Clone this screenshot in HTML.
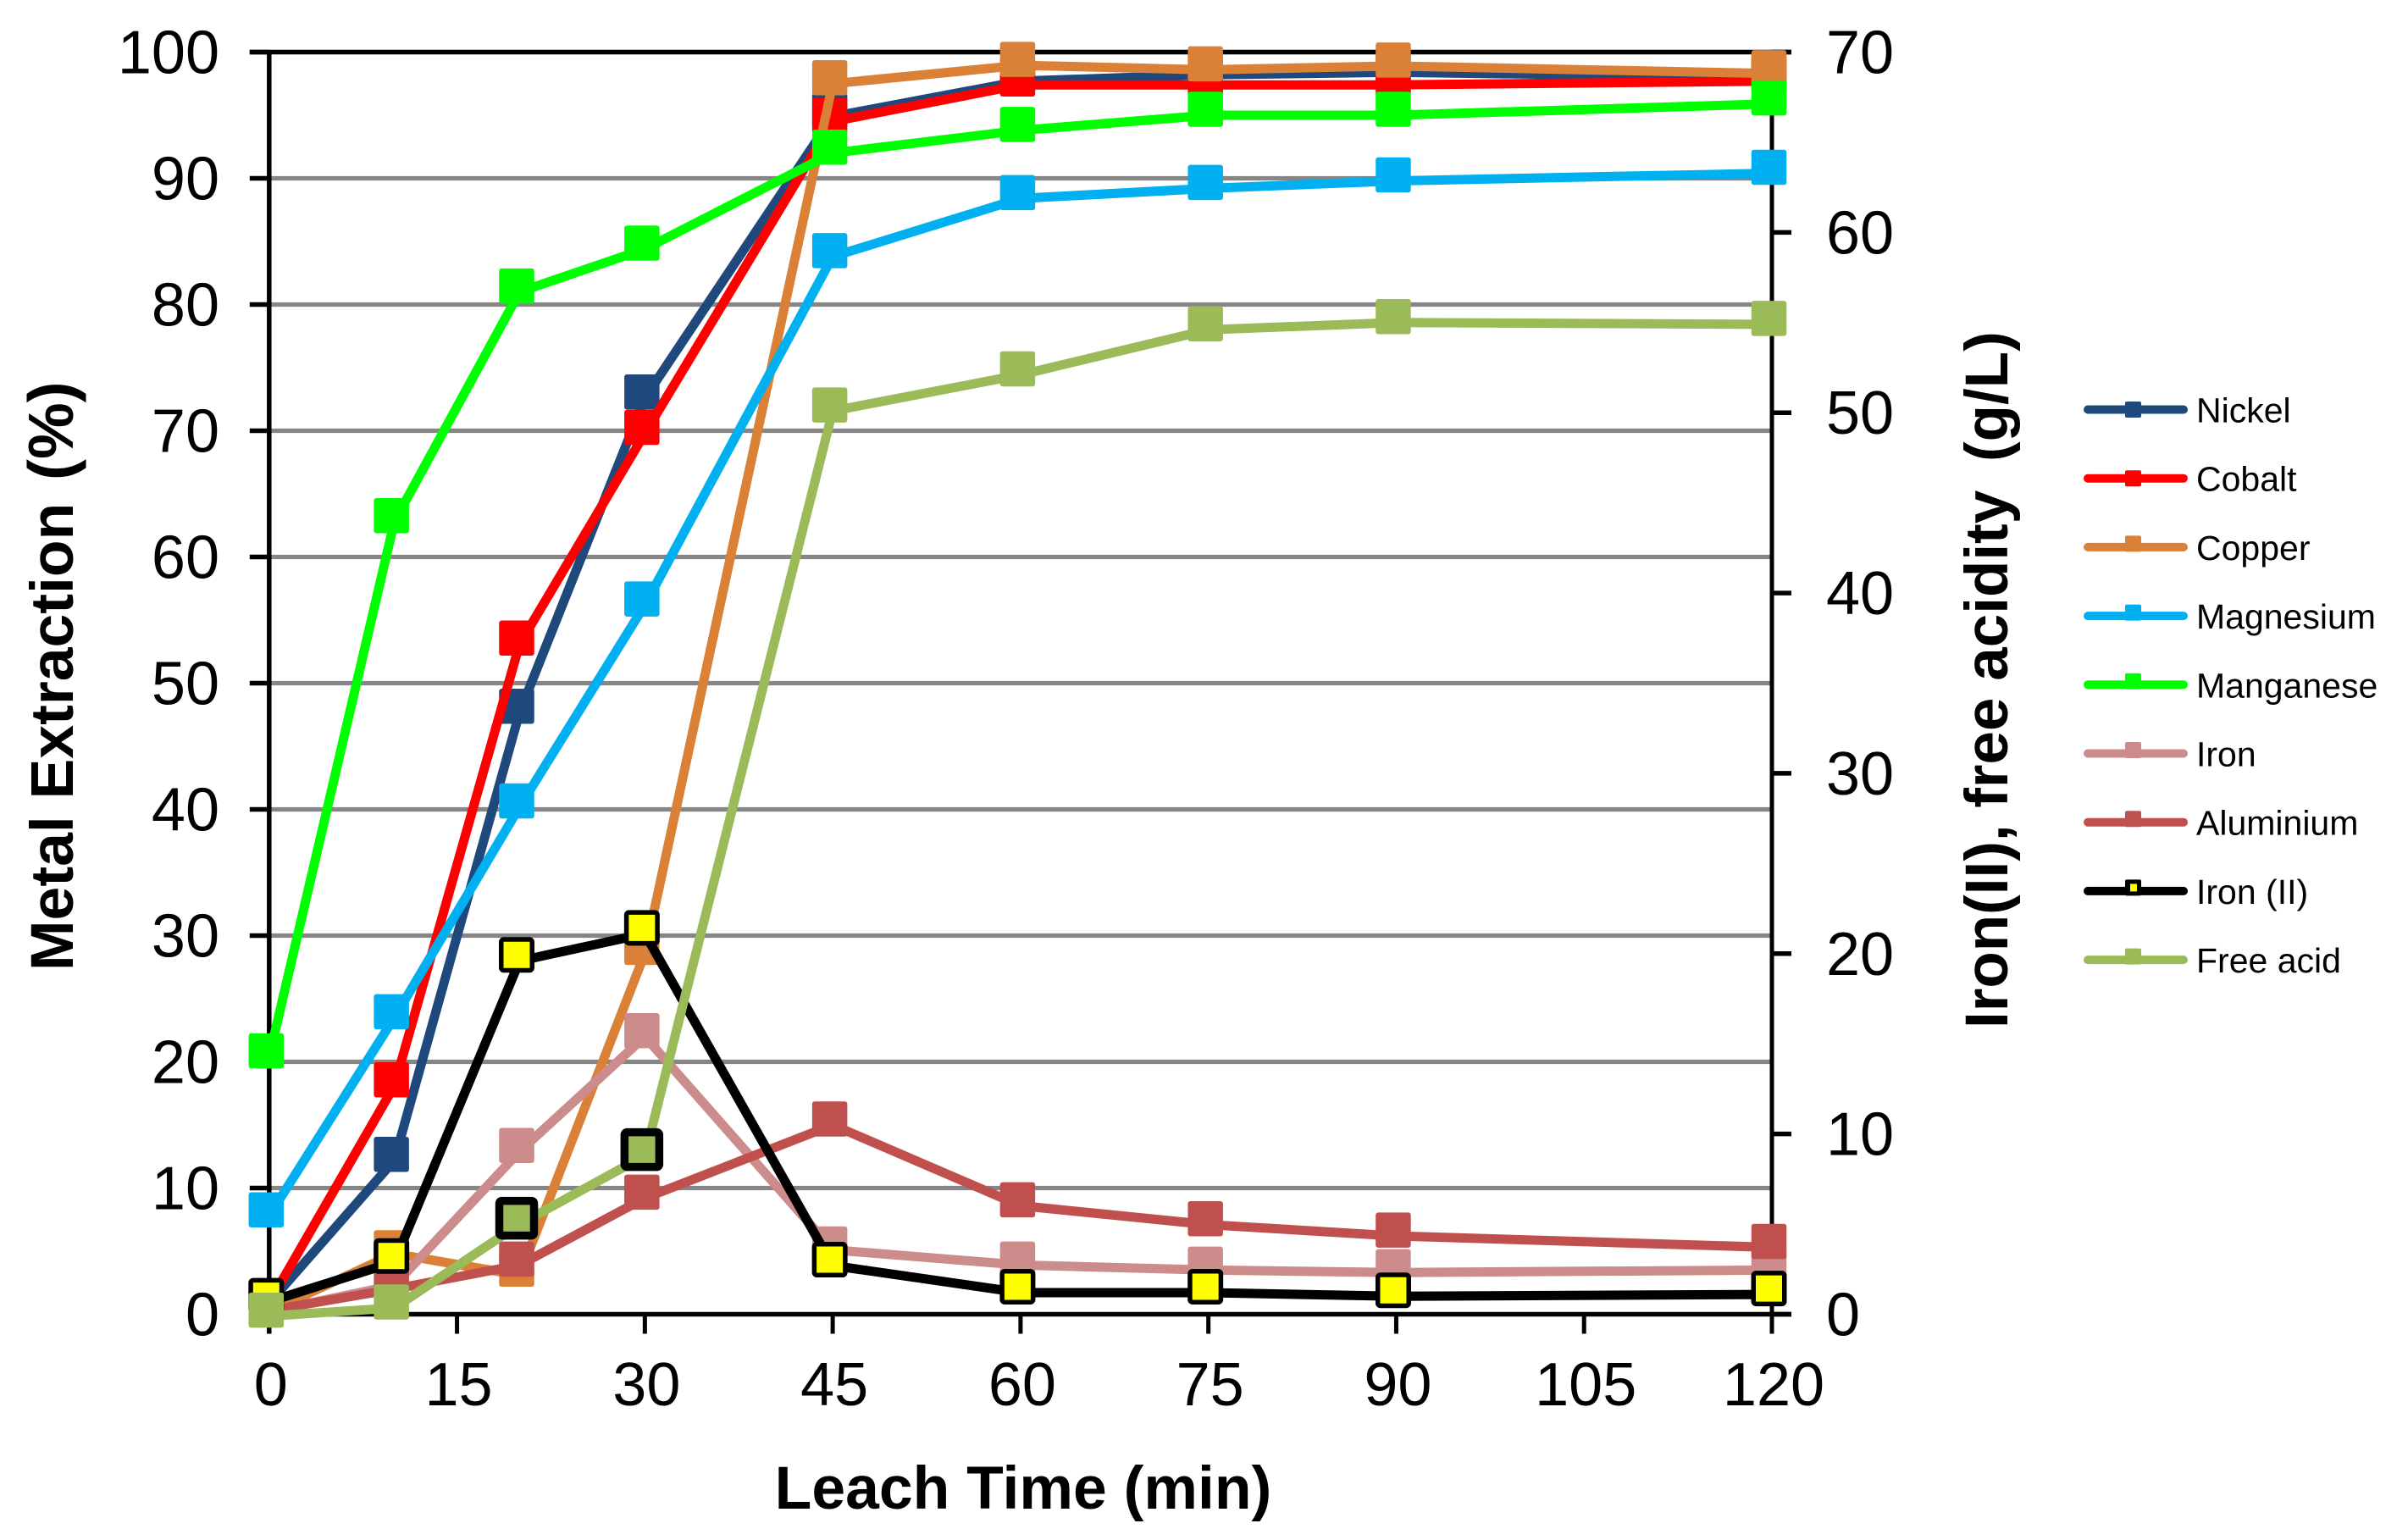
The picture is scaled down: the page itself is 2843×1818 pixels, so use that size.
<!DOCTYPE html>
<html lang="en">
<head>
<meta charset="utf-8">
<title>Metal extraction vs leach time</title>
<style>
html,body{margin:0;padding:0;background:#fff;}
svg{display:block;}
text{font-family:"Liberation Sans",Arial,sans-serif;fill:#000;}
</style>
</head>
<body>
<svg id="chart" xmlns="http://www.w3.org/2000/svg" width="2843" height="1818" viewBox="0 0 2843 1818">
  <rect x="0" y="0" width="2843" height="1818" fill="#ffffff"/>
  <g id="grid"></g>
  <g id="axes"></g>
  <g id="series"></g>
  <g id="labels"></g>
  <text x="1208" y="1781" font-size="71.5" font-weight="700" text-anchor="middle">Leach Time (min)</text>
  <text transform="translate(86,0) rotate(-90)" font-size="71.5" font-weight="700"><tspan x="-1146">Metal Extraction</tspan> <tspan x="-567" font-size="75">(%)</tspan></text>
  <text transform="translate(2370,0) rotate(-90)" font-size="71" font-weight="700"><tspan x="-1214">Iron(II), free acidity</tspan> <tspan x="-545">(g/L)</tspan></text>
  <g id="legend"></g>
</svg>
<script>
// Data
const times = [0, 10, 20, 30, 45, 60, 75, 90, 120];
const xTicks = [0, 15, 30, 45, 60, 75, 90, 105, 120];
const leftTicks = [0, 10, 20, 30, 40, 50, 60, 70, 80, 90, 100];
const rightTicks = [0, 10, 20, 30, 40, 50, 60, 70];

const nickel = [0.9, 12.2, 47.7, 72.6, 94.9, 97.7, 98.2, 98.4, 98.0];
const cobalt = [0.9, 18.1, 53.1, 69.8, 94.5, 97.4, 97.4, 97.4, 97.7];
const copper = [0.2, 4.8, 3.1, 28.6, 97.5, 98.95, 98.6, 98.9, 98.3];
const magnesium = [7.8, 23.5, 40.2, 56.2, 83.8, 88.4, 89.2, 89.8, 90.4];
const manganese = [20.4, 62.8, 81.0, 84.4, 92.0, 93.8, 95.0, 95.0, 95.9];
const iron = [0.2, 2.3, 12.9, 22.0, 5.1, 3.9, 3.5, 3.3, 3.5];
const aluminium = [0.3, 2.0, 3.9, 9.2, 15.0, 8.6, 7.1, 6.2, 5.3];
const ironII = [0.7, 2.9, 19.6, 21.1, 2.7, 1.2, 1.2, 1.0, 1.1];
const freeAcid = [-0.1, 0.35, 5.0, 8.8, 50.1, 52.1, 54.6, 55.0, 54.9];
const freeAcidOutlinedTimes = [20, 30];

const seriesNames = ['Nickel', 'Cobalt', 'Copper', 'Magnesium', 'Manganese', 'Iron', 'Aluminium', 'Iron (II)', 'Free acid'];
const seriesValues = [nickel, cobalt, copper, magnesium, manganese, iron, aluminium, ironII, freeAcid];
const seriesOnRightAxis = [false, false, false, false, false, false, false, true, true];
const seriesColors = ['#1F497D', '#FF0000', '#DA8137', '#00B0F0', '#00FF00', '#CD8C8C', '#C0504D', '#000000', '#9BBB59'];

// Axis functions
const plotLeft = 317.8, plotRight = 2092, plotTop = 61.5, plotBottom = 1551.5;
function xScale(t) { return plotLeft + t * (plotRight - plotLeft) / 120; }
function yLeft(v) { return plotBottom - v * (plotBottom - plotTop) / 100; }
function yRight(v) { return plotBottom - v * (plotBottom - plotTop) / 70; }

const NS = 'http://www.w3.org/2000/svg';
function make(tag, parent, attrs) {
  const el = document.createElementNS(NS, tag);
  for (const k in attrs) el.setAttribute(k, attrs[k]);
  parent.appendChild(el);
  return el;
}
function slug(s) { return s.toLowerCase().replace(/[^a-z0-9]+/g, '-').replace(/-$/, ''); }

const gridG = document.getElementById('grid');
const axesG = document.getElementById('axes');
const labelsG = document.getElementById('labels');
const seriesG = document.getElementById('series');
const legendG = document.getElementById('legend');

// Gridlines
leftTicks.forEach(function (v) {
  if (v === 0 || v === 100) return;
  const el = make('line', gridG, { x1: plotLeft, x2: plotRight, y1: yLeft(v), y2: yLeft(v), stroke: '#868686', 'stroke-width': 5.3 });
  
  
});

// Axis frame
const tickLen = 23;
const axisW = 5.5;
const topLine = make('line', axesG, { x1: plotLeft - tickLen, x2: plotRight + tickLen, y1: plotTop, y2: plotTop, stroke: '#000', 'stroke-width': axisW });


const bottomLine = make('line', axesG, { x1: plotLeft - tickLen, x2: plotRight + tickLen, y1: plotBottom, y2: plotBottom, stroke: '#000', 'stroke-width': axisW });


const leftLine = make('line', axesG, { x1: plotLeft, x2: plotLeft, y1: plotTop, y2: plotBottom + tickLen, stroke: '#000', 'stroke-width': axisW });


const rightLine = make('line', axesG, { x1: plotRight, x2: plotRight, y1: plotTop, y2: plotBottom + tickLen, stroke: '#000', 'stroke-width': 5 });



// Left ticks and labels
leftTicks.forEach(function (v) {
  const tick = make('line', axesG, { x1: plotLeft - tickLen, x2: plotLeft, y1: yLeft(v), y2: yLeft(v), stroke: '#000', 'stroke-width': axisW });
  
  
  const label = make('text', labelsG, { x: 259, y: yLeft(v) + 25, 'font-size': 72, 'text-anchor': 'end' });
  
  
  label.textContent = v;
});

// Right ticks and labels
rightTicks.forEach(function (v) {
  const tick = make('line', axesG, { x1: plotRight, x2: plotRight + tickLen, y1: yRight(v), y2: yRight(v), stroke: '#000', 'stroke-width': axisW });
  
  
  const label = make('text', labelsG, { x: 2156, y: yRight(v) + 25, 'font-size': 72 });
  
  
  label.textContent = v;
});

// X ticks and labels
xTicks.forEach(function (t) {
  const tick = make('line', axesG, { x1: xScale(t), x2: xScale(t), y1: plotBottom, y2: plotBottom + tickLen, stroke: '#000', 'stroke-width': 5 });
  
  
  const label = make('text', labelsG, { x: xScale(t) + 2, y: 1659, 'font-size': 72, 'text-anchor': 'middle' });
  
  
  label.textContent = t;
});

// Series: each line and its markers, drawn in legend order
const markerDx = -3.5, markerDy = -7, markerSize = 41.5;
seriesNames.forEach(function (name, si) {
  const values = seriesValues[si];
  const yFn = seriesOnRightAxis[si] ? yRight : yLeft;
  const color = seriesColors[si];
  const key = slug(name);
  const group = make('g', seriesG, {});
  
  
  const pts = values.map(function (v, i) { return xScale(times[i]).toFixed(1) + ',' + yFn(v).toFixed(1); }).join(' ');
  const line = make('polyline', group, { points: pts, fill: 'none', stroke: color, 'stroke-width': 11, 'stroke-linejoin': 'round' });
  
  
  values.forEach(function (v, i) {
    const cx = xScale(times[i]) + markerDx;
    const cy = yFn(v) + markerDy;
    let size = markerSize, fill = color, stroke = 'none', sw = 0;
    if (name === 'Iron (II)') { size = 36.5; fill = '#FFFF00'; stroke = '#000'; sw = 5.5; }
    if (name === 'Free acid' && freeAcidOutlinedTimes.indexOf(times[i]) >= 0) { size = 41; stroke = '#000'; sw = 9.5; }
    const m = make('rect', group, { x: cx - size / 2, y: cy - size / 2, width: size, height: size, rx: 3, fill: fill, stroke: stroke, 'stroke-width': sw });
    
    
  });
});

// Legend
seriesNames.forEach(function (name, si) {
  const key = slug(name);
  const y = 483.5 + si * 81.2;
  const color = seriesColors[si];
  const group = make('g', legendG, {});
  
  
  const line = make('line', group, { x1: 2465, x2: 2578, y1: y, y2: y, stroke: color, 'stroke-width': 10, 'stroke-linecap': 'round' });
  
  
  const my = si < 2 ? y : y - 4;
  const marker = make('rect', group, { x: 2509, y: my - 9.5, width: 19, height: 19, rx: 2, fill: color });
  
  
  if (name === 'Iron (II)') {
    const inner = make('rect', group, { x: 2515, y: my - 4.5, width: 8, height: 9, fill: '#FFFF00' });
    
    
  }
  const label = make('text', group, { x: 2593, y: y + 15, 'font-size': 41 });
  
  
  label.textContent = name;
});
</script>
</body>
</html>
